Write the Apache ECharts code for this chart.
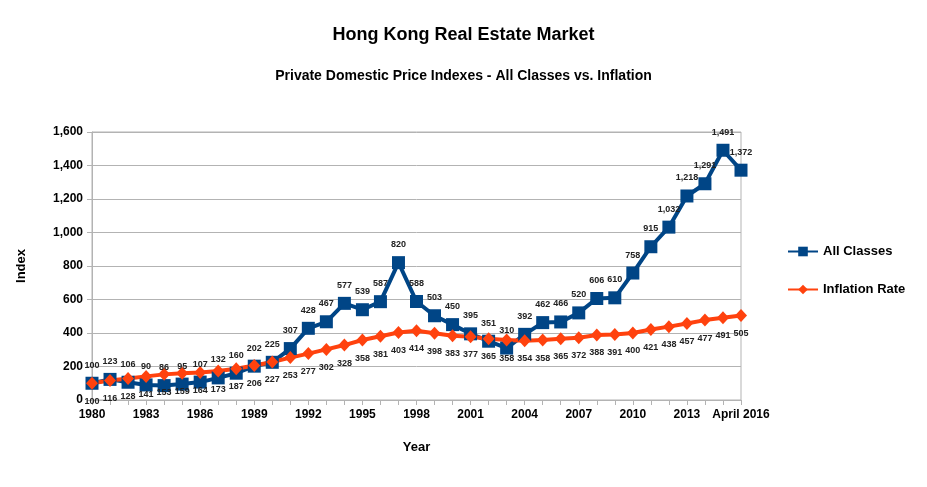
<!DOCTYPE html>
<html>
<head>
    <meta charset="utf-8">
    <title>Hong Kong Real Estate Market</title>
    <script src="https://cdn.jsdelivr.net/npm/echarts@6/dist/echarts.min.js"></script>
    <style>
        html, body { margin: 0; padding: 0; background: #fff; }
        #main { width: 927px; height: 487px; }
    </style>
</head>
<body>
<div id="main"></div>
<script type="text/javascript">
// years 1980 - 2015 plus April 2016
var years = [];
for (var y = 1980; y <= 2015; y++) years.push(String(y));
years.push('April 2016');

var allClasses = [100, 123, 106, 90, 86, 95, 107, 132, 160, 202, 225, 307,
    428, 467, 577, 539, 587, 820, 588, 503, 450, 395, 351, 310, 392, 462,
    466, 520, 606, 610, 758, 915, 1032, 1218, 1291, 1491, 1372];

var inflation = [100, 116, 128, 141, 153, 159, 164, 173, 187, 206, 227, 253,
    277, 302, 328, 358, 381, 403, 414, 398, 383, 377, 365, 358, 354, 358,
    365, 372, 388, 391, 400, 421, 438, 457, 477, 491, 505];

var fontFam = 'Liberation Sans, Arial, sans-serif';

function fmt(v) {
    return Number(v).toLocaleString('en-US');
}

var myChart = echarts.init(document.getElementById('main'));
myChart.setOption({
    animation: false,
    textStyle: { fontFamily: fontFam },
    title: [
        {
            text: 'Hong Kong Real Estate Market',
            left: 'center', top: 21,
            textStyle: { fontSize: 18, fontWeight: 'bold', color: '#000', fontFamily: fontFam }
        },
        {
            text: 'Private Domestic Price Indexes - All Classes vs. Inflation',
            left: 'center', top: 64,
            textStyle: { fontSize: 14, fontWeight: 'bold', color: '#000', fontFamily: fontFam }
        }
    ],
    legend: {
        orient: 'vertical',
        left: 782, top: 240,
        itemWidth: 30, itemHeight: 12, itemGap: 25,
        textStyle: { fontSize: 13, fontWeight: 'bold', color: '#000', fontFamily: fontFam },
        data: ['All Classes', 'Inflation Rate']
    },
    grid: {
        left: 92, right: 186, top: 132, bottom: 87,
        show: true, borderColor: '#b3b3b3', borderWidth: 1
    },
    xAxis: {
        type: 'category',
        data: years,
        boundaryGap: false,
        name: 'Year',
        nameLocation: 'middle',
        nameGap: 41,
        nameTextStyle: { fontSize: 13, fontWeight: 'bold', color: '#000' },
        axisLine: { lineStyle: { color: '#b3b3b3' } },
        axisTick: { interval: 0, length: 5, lineStyle: { color: '#b3b3b3' } },
        axisLabel: {
            interval: 2, fontSize: 12, fontWeight: 'bold', color: '#000', margin: 9
        },
        splitLine: { show: false }
    },
    yAxis: {
        type: 'value',
        min: 0, max: 1600, interval: 200,
        name: 'Index',
        nameLocation: 'middle',
        nameGap: 64,
        nameTextStyle: { fontSize: 13, fontWeight: 'bold', color: '#000' },
        axisLine: { show: true, lineStyle: { color: '#b3b3b3' } },
        axisTick: { show: true, length: 5, lineStyle: { color: '#b3b3b3' } },
        axisLabel: {
            fontSize: 12, fontWeight: 'bold', color: '#000', margin: 9,
            formatter: function (v) { return fmt(v); }
        },
        splitLine: { lineStyle: { color: '#b3b3b3' } }
    },
    series: [
        {
            name: 'All Classes',
            type: 'line',
            data: allClasses,
            symbol: 'rect',
            symbolSize: 13,
            showAllSymbol: true,
            lineStyle: { color: '#004586', width: 4 },
            itemStyle: { color: '#004586' },
            label: {
                show: true, position: 'top', distance: 7,
                fontSize: 9, fontWeight: 'bold', color: '#222',
                formatter: function (p) { return fmt(p.value); }
            }
        },
        {
            name: 'Inflation Rate',
            type: 'line',
            data: inflation,
            symbol: 'diamond',
            symbolSize: [12, 13],
            showAllSymbol: true,
            lineStyle: { color: '#ff420e', width: 4 },
            itemStyle: { color: '#ff420e' },
            label: {
                show: true, position: 'bottom', distance: 7,
                fontSize: 9, fontWeight: 'bold', color: '#222',
                formatter: function (p) { return fmt(p.value); }
            }
        }
    ]
});
</script>
</body>
</html>
